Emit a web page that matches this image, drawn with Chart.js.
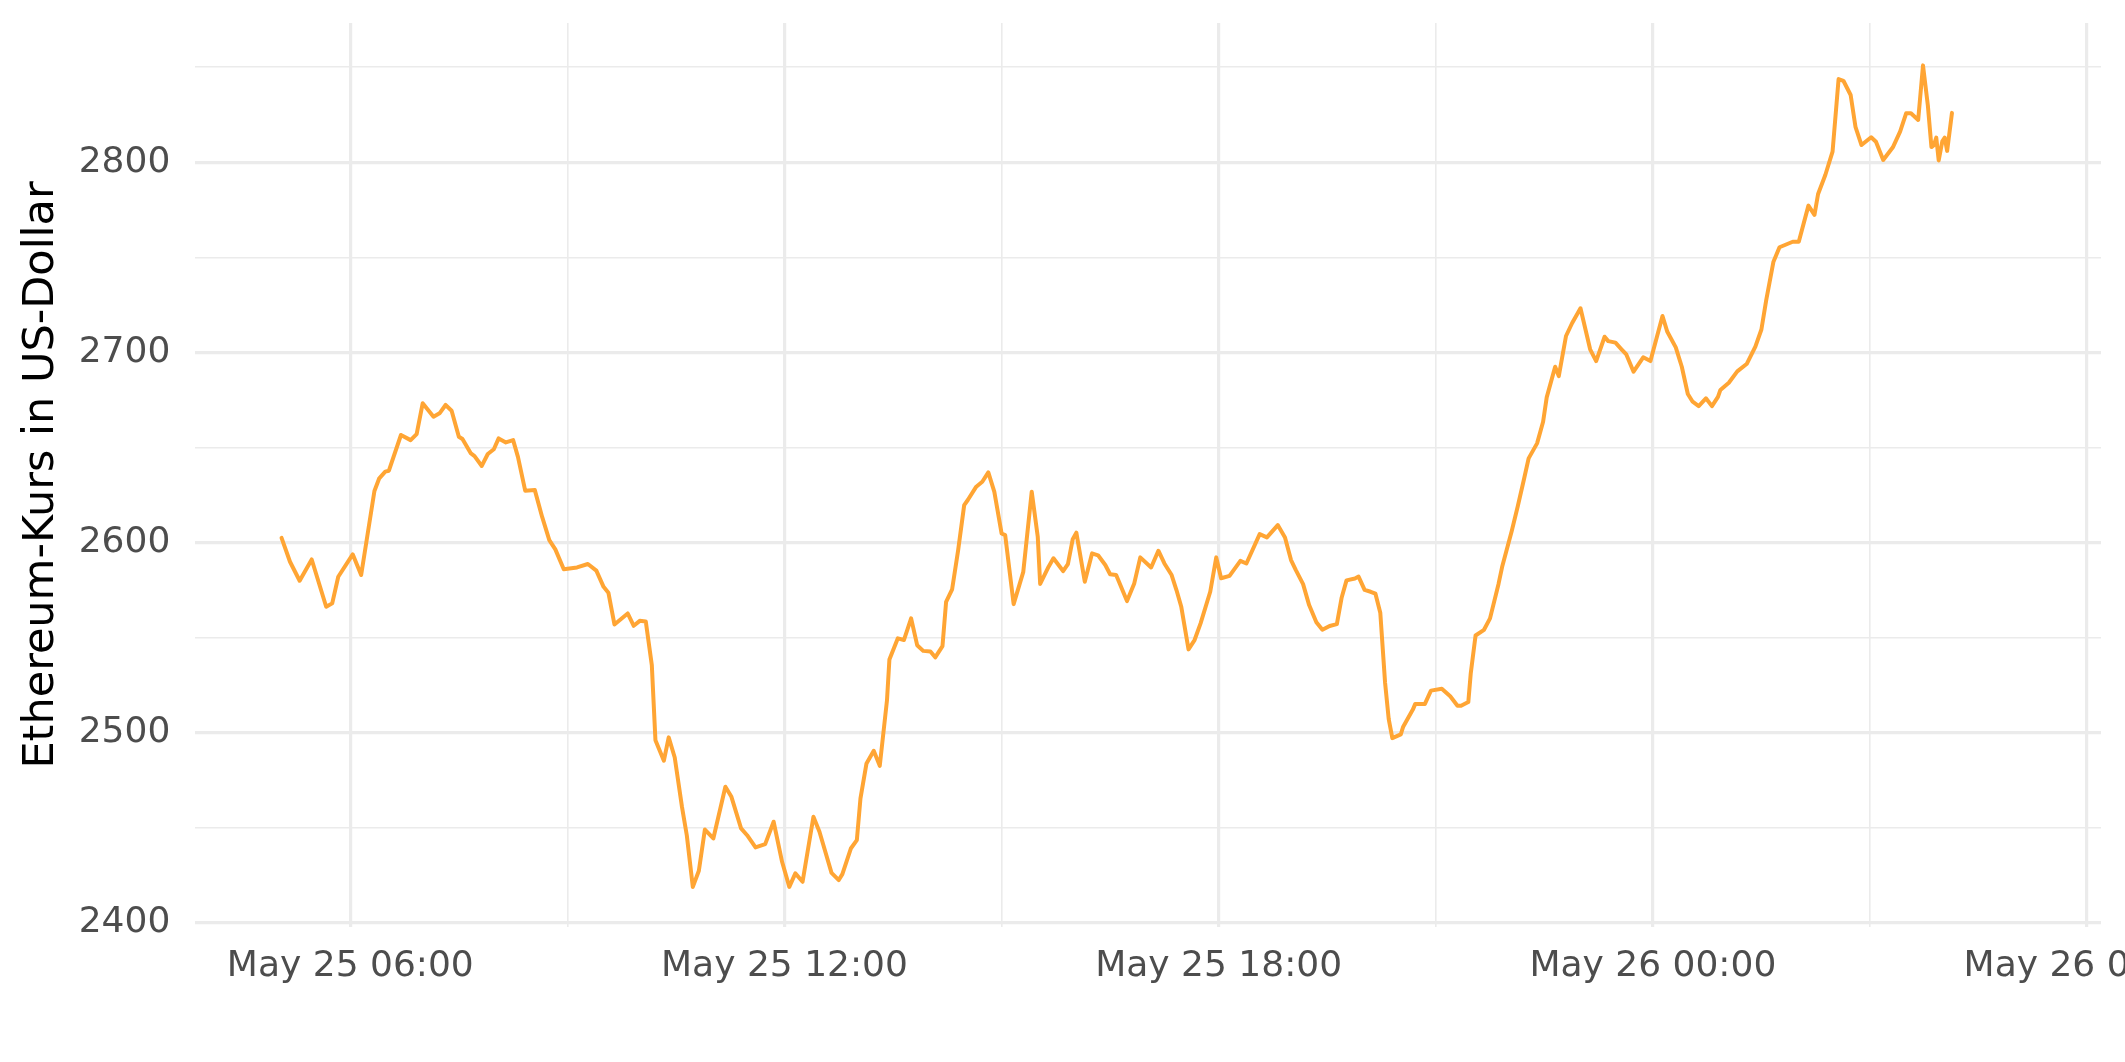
<!DOCTYPE html>
<html><head><meta charset="utf-8">
<script src="https://cdn.jsdelivr.net/npm/chart.js@4.4.1/dist/chart.umd.min.js"></script>
<style>html,body{margin:0;padding:0;background:#fff;overflow:hidden}</style>
</head><body>
<canvas id="c" width="2125" height="1062"></canvas>
<script>
// Timestamps (day hh:mm, May) and Ethereum prices in USD
const times = [
"25 05:03","25 05:10","25 05:18","25 05:28","25 05:40","25 05:45","25 05:50","25 06:02","25 06:09","25 06:20",
"25 06:24","25 06:29","25 06:32","25 06:42","25 06:50","25 06:55","25 07:00","25 07:09","25 07:14","25 07:19",
"25 07:24","25 07:30","25 07:33","25 07:40","25 07:43","25 07:49","25 07:54","25 07:59","25 08:03","25 08:09",
"25 08:15","25 08:19","25 08:25","25 08:33","25 08:39","25 08:45","25 08:50","25 08:57","25 09:08","25 09:17",
"25 09:24","25 09:30","25 09:34","25 09:39","25 09:50","25 09:55","25 10:00","25 10:05","25 10:10","25 10:13",
"25 10:20","25 10:24","25 10:29","25 10:35","25 10:39","25 10:44","25 10:49","25 10:54","25 11:01","25 11:11",
"25 11:16","25 11:24","25 11:29","25 11:36","25 11:44","25 11:51","25 11:58","25 12:04","25 12:09","25 12:15",
"25 12:24","25 12:29","25 12:39","25 12:45","25 12:48","25 12:55","25 13:00","25 13:03","25 13:08","25 13:14",
"25 13:19","25 13:25","25 13:27","25 13:34","25 13:39","25 13:45","25 13:50","25 13:55","25 14:01","25 14:05",
"25 14:11","25 14:14","25 14:19","25 14:24","25 14:29","25 14:32","25 14:39","25 14:44","25 14:49","25 14:54",
"25 15:00","25 15:03","25 15:10","25 15:18","25 15:25","25 15:30","25 15:32","25 15:39","25 15:43","25 15:51",
"25 15:55","25 15:59","25 16:02","25 16:09","25 16:15","25 16:20","25 16:26","25 16:30","25 16:35","25 16:44",
"25 16:50","25 16:55","25 17:04","25 17:10","25 17:15","25 17:21","25 17:25","25 17:29","25 17:35","25 17:40",
"25 17:45","25 17:53","25 17:58","25 18:02","25 18:09","25 18:18","25 18:23","25 18:34","25 18:40","25 18:49",
"25 18:55","25 19:00","25 19:04","25 19:10","25 19:15","25 19:21","25 19:26","25 19:32","25 19:38","25 19:42",
"25 19:46","25 19:53","25 19:56","25 20:01","25 20:06","25 20:10","25 20:14","25 20:18","25 20:21","25 20:24",
"25 20:31","25 20:33","25 20:41","25 20:43","25 20:51","25 20:56","25 21:05","25 21:12","25 21:18","25 21:21",
"25 21:27","25 21:29","25 21:33","25 21:40","25 21:45","25 21:52","25 21:55","25 22:03","25 22:08","25 22:13",
"25 22:17","25 22:24","25 22:29","25 22:32","25 22:39","25 22:42","25 22:48","25 22:53","25 23:00","25 23:08",
"25 23:13","25 23:20","25 23:23","25 23:29","25 23:34","25 23:38","25 23:44","25 23:52","25 23:58","26 00:08",
"26 00:12","26 00:19","26 00:24","26 00:29","26 00:33","26 00:38","26 00:44","26 00:49","26 00:54","26 00:56",
"26 01:03","26 01:10","26 01:18","26 01:25","26 01:30","26 01:34","26 01:40","26 01:45","26 01:56","26 02:01",
"26 02:09","26 02:14","26 02:17","26 02:23","26 02:29","26 02:34","26 02:38","26 02:44","26 02:48","26 02:53",
"26 03:01","26 03:05","26 03:11","26 03:19","26 03:25","26 03:30","26 03:34","26 03:40","26 03:44","26 03:48",
"26 03:51","26 03:53","26 03:55","26 03:57","26 04:00","26 04:02","26 04:04","26 04:08"
];
const prices = [
2602.4,2589.8,2579.8,2591.0,2566.1,2567.9,2581.9,2593.7,2582.8,2627.0,
2633.7,2637.2,2637.7,2656.5,2653.8,2657.0,2673.2,2666.1,2667.9,2672.3,
2669.3,2655.6,2654.4,2646.8,2645.4,2640.2,2646.5,2649.0,2654.7,2652.6,
2653.8,2645.0,2627.2,2627.5,2613.5,2601.2,2596.3,2585.9,2586.8,2588.6,
2585.1,2576.6,2573.5,2556.8,2562.6,2556.1,2558.7,2558.4,2535.4,2495.9,
2485.1,2497.4,2486.8,2460.8,2445.9,2418.7,2427.2,2448.9,2444.2,2471.4,
2466.1,2449.5,2445.9,2439.5,2441.2,2453.0,2431.9,2418.7,2425.8,2421.4,
2455.6,2447.7,2426.1,2422.3,2425.4,2438.9,2443.3,2465.3,2483.7,2490.3,
2482.4,2517.0,2538.4,2549.5,2548.6,2560.0,2545.9,2542.9,2542.6,2539.5,
2545.4,2568.7,2575.3,2595.9,2619.6,2622.3,2629.3,2631.9,2636.8,2626.6,
2604.7,2603.8,2567.5,2584.5,2626.6,2602.9,2578.1,2587.2,2591.6,2584.9,
2588.6,2601.7,2605.1,2579.3,2594.2,2593.2,2588.1,2583.2,2582.8,2569.1,
2578.4,2592.1,2586.8,2595.6,2588.9,2582.8,2574.9,2566.1,2543.7,2548.6,
2557.4,2574.0,2592.1,2581.1,2582.4,2590.3,2588.9,2604.3,2602.6,2609.1,
2602.6,2590.7,2585.4,2578.0,2567.0,2558.0,2554.0,2556.0,2557.0,2571.0,
2580.0,2581.0,2582.0,2575.0,2574.0,2573.0,2563.0,2526.0,2507.0,2497.0,
2499.0,2503.0,2512.0,2515.0,2515.0,2522.0,2523.0,2519.0,2514.0,2514.0,
2516.0,2531.0,2551.0,2554.0,2560.0,2578.0,2587.0,2606.0,2619.0,2632.8,
2644.2,2652.1,2663.5,2676.3,2692.4,2687.5,2708.6,2715.3,2723.2,2701.6,
2695.4,2708.2,2705.9,2705.1,2701.6,2698.9,2689.8,2697.4,2695.4,2719.1,
2710.8,2702.6,2692.4,2678.1,2674.0,2671.7,2675.8,2671.7,2676.6,2680.2,
2684.0,2690.0,2694.0,2703.0,2712.0,2727.5,2747.7,2755.3,2758.2,2758.2,
2777.2,2772.3,2783.3,2793.3,2805.6,2843.8,2842.9,2835.4,2818.7,2809.1,
2813.2,2810.8,2801.2,2807.9,2816.1,2825.8,2825.8,2822.3,2851.0,2830.0,
2808.0,2809.0,2813.0,2801.0,2811.0,2813.0,2806.0,2826.0
];
const yLabelStep = 100;          // labelled y ticks
const xLabelStepHours = 6;       // labelled x ticks
const monthName = "May";
const yTitle = "Ethereum-Kurs in US-Dollar";

function toHours(s){
  const [d, hm] = s.split(" ");
  const [h, m] = hm.split(":").map(Number);
  return (Number(d) - 25) * 24 + h + m / 60;
}
const points = times.map((t, i) => ({x: toHours(t), y: prices[i]}));
const isMult = (v, s) => Math.abs(v / s - Math.round(v / s)) < 1e-6;
function fmtX(v){
  const day = 25 + Math.floor(v / 24 + 1e-9);
  const h = Math.round(v - (day - 25) * 24);
  return monthName + " " + day + " " + String(h).padStart(2, "0") + ":00";
}

new Chart(document.getElementById("c"), {
  type: "line",
  data: { datasets: [{
    data: points, borderColor: "#ffa534", borderWidth: 4, pointRadius: 0,
    tension: 0, borderJoinStyle: "round", borderCapStyle: "round", fill: false
  }]},
  options: {
    responsive: false, animation: false, devicePixelRatio: 1,
    parsing: false, normalized: true,
    layout: { padding: { top: 23, right: 24, left: 0, bottom: 0 } },
    plugins: { legend: { display: false }, tooltip: { enabled: false } },
    scales: {
      x: {
        type: "linear", min: 3.858, max: 30.193,
        border: { display: false },
        grid: { color: "#ebebeb", drawTicks: false,
          lineWidth: c => (c.tick && isMult(c.tick.value, xLabelStepHours)) ? 3.2 : 1.6 },
        ticks: { stepSize: 3, includeBounds: false, autoSkip: false, maxRotation: 0, minRotation: 0,
          padding: 18, color: "#4d4d4d", font: { family: "DejaVu Sans", size: 36 },
          callback: v => isMult(v, xLabelStepHours) ? fmtX(v) : "" },
        afterFit: s => { s.height = 135; s.paddingLeft = 0; s.paddingRight = 0; }
      },
      y: {
        type: "linear", min: 2397.6, max: 2873.3,
        border: { display: false },
        grid: { color: "#ebebeb", drawTicks: false,
          lineWidth: c => (c.tick && isMult(c.tick.value, yLabelStep)) ? 3.2 : 1.6 },
        ticks: { stepSize: 50, includeBounds: false, autoSkip: false, padding: 25,
          color: "#4d4d4d", font: { family: "DejaVu Sans", size: 36 },
          callback: v => isMult(v, yLabelStep) ? String(v) : "" },
        title: { display: true, text: yTitle, color: "#000000",
          font: { family: "DejaVu Sans", size: 43, weight: "normal" }, padding: { top: 16, bottom: 0 } },
        afterFit: s => { s.width = 195.3; s.paddingTop = 0; s.paddingBottom = 0; }
      }
    }
  }
});
</script>
</body></html>
